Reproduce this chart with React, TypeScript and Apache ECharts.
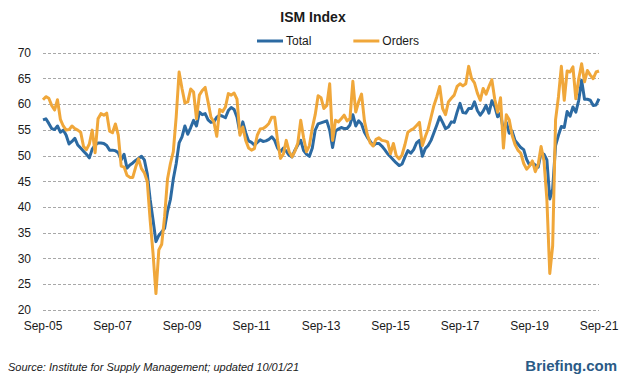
import React, { useEffect, useRef } from "react";
import * as echarts from "echarts";

const MONTHS = ["Jan", "Feb", "Mar", "Apr", "May", "Jun", "Jul", "Aug", "Sep", "Oct", "Nov", "Dec"];
const START_YEAR = 2005;
const START_MONTH = 8; // Sep
const COUNT = 193; // Sep-05 .. Sep-21

const total = [
  57.0, 57.2, 56.3, 55.3,
  55.1, 55.8, 54.6, 55.0, 54.0, 52.3, 52.8, 53.4, 52.1, 51.5, 50.9, 50.3,
  49.6, 51.3, 52.1, 52.5, 52.5, 52.4, 52.0, 51.1, 51.1, 51.0, 50.6, 49.2,
  50.3, 47.6, 48.2, 48.6, 49.1, 49.5, 49.9, 49.2, 46.5, 41.5, 37.5, 33.3,
  34.5, 35.2, 35.9, 39.2, 41.5, 45.5, 48.5, 52.5, 53.7, 55.8, 54.2, 55.5,
  56.9, 55.8, 58.5, 58.0, 58.2, 57.0, 56.5, 56.6, 57.5, 57.9, 57.7, 57.4,
  58.8, 59.4, 59.0, 57.5, 54.5, 56.6, 54.5, 52.9, 52.6, 52.1, 52.6, 53.1,
  52.8, 52.9, 53.2, 53.7, 53.0, 51.5, 50.8, 51.5, 50.9, 50.1, 49.8, 51.1,
  52.1, 53.0, 51.0, 50.3, 49.9, 51.5, 55.0, 56.2, 56.4, 56.6, 56.8, 55.0,
  51.6, 54.8, 55.2, 55.5, 55.3, 55.3, 56.0, 58.0, 55.8, 56.8, 56.2, 54.6,
  53.6, 52.8, 52.0, 52.4, 52.4, 51.9, 51.2, 50.4, 49.8, 49.2, 48.6, 48.1,
  48.4, 49.8, 51.0, 50.5, 51.2, 52.5, 53.0, 49.9, 51.4, 52.0, 53.0, 54.5,
  56.0, 57.6, 56.5, 55.3, 55.6, 56.6, 56.5, 58.5, 60.2, 58.4, 58.3, 59.2,
  59.2, 60.5, 58.8, 57.9, 58.7, 59.8, 58.3, 60.7, 59.6, 57.6, 58.3, 54.8,
  56.5, 54.4, 54.8, 53.0, 52.3, 51.6, 51.2, 49.3, 48.2, 48.6, 48.2, 47.8,
  50.6, 50.3, 49.2, 41.6, 43.5, 52.0, 54.0, 55.7, 55.5, 58.6, 57.7, 59.5,
  58.5, 60.8, 64.7, 61.0, 61.0, 60.8, 59.8, 59.9, 61.1,
];

const orders = [
  60.9, 61.5, 61.2, 59.8,
  58.9, 60.9, 57.1, 55.8, 55.0, 55.1, 55.8, 55.3, 55.0, 54.6, 51.8, 51.2,
  52.3, 55.0, 50.6, 57.2, 58.2, 57.9, 58.3, 54.8, 54.5, 56.2, 54.0, 48.0,
  47.8, 46.2, 45.8, 45.8, 47.8, 49.4, 47.5, 46.7, 45.0, 37.5, 31.0, 23.2,
  31.7, 32.8, 38.2, 45.5, 48.5, 50.8, 57.6, 66.3, 63.1, 60.3, 60.5, 63.0,
  62.4, 57.2, 61.8, 62.7, 63.3, 60.5, 57.5, 56.6, 53.8, 59.0, 58.6, 59.5,
  62.1, 61.8, 62.2, 61.0, 54.0, 55.6, 53.0, 51.5, 51.1, 51.4, 54.0, 55.2,
  55.3, 55.7, 56.3, 57.5, 57.5, 53.0, 49.5, 50.3, 53.0, 50.8, 49.8, 50.9,
  52.5, 56.9, 53.5, 50.8, 52.0, 55.4, 58.0, 61.7, 61.3, 59.2, 59.8, 64.0,
  53.0, 56.9, 56.6, 57.2, 57.9, 56.8, 57.2, 64.5, 58.5, 60.5, 62.0, 56.8,
  54.1, 52.5, 51.9, 53.2, 53.5, 53.0, 52.9, 52.7, 50.4, 52.4, 50.0, 49.4,
  50.2, 52.2, 54.6, 55.0, 55.3, 55.9, 56.5, 52.0, 53.7, 55.2, 57.5, 59.8,
  61.5, 63.5, 59.2, 58.0, 60.5, 61.2, 61.8, 63.5, 64.0, 63.6, 64.0, 67.4,
  65.0, 64.2, 62.2, 60.8, 63.1, 62.0, 63.5, 64.8, 61.0, 58.5, 61.3, 51.5,
  58.0, 57.0, 54.0, 52.2, 51.1, 50.5, 48.5, 47.4, 48.0, 49.0, 46.9, 48.3,
  51.8, 49.0, 41.5, 27.1, 32.5, 57.0, 61.5, 67.4, 60.8, 66.5, 66.3, 67.3,
  61.1, 65.0, 67.9, 64.4, 66.6, 65.7, 65.0, 66.3, 66.5,
];

const categories: string[] = [];
for (let i = 0; i < COUNT; i++) {
  const k = START_MONTH + i;
  const m = k % 12;
  const y = START_YEAR + Math.floor(k / 12);
  categories.push(`${MONTHS[m]}-${String(y % 100).padStart(2, "0")}`);
}

const FONT = "Liberation Sans";

export default function App() {
  const ref = useRef<HTMLDivElement>(null);
  useEffect(() => {
    if (!ref.current) return;
    const chart = echarts.init(ref.current, undefined, { renderer: "svg" });
    chart.setOption({
      animation: false,
      backgroundColor: "#ffffff",
      title: {
        text: "ISM Index",
        left: "center",
        top: 5,
        textStyle: { fontFamily: FONT, fontSize: 14, fontWeight: "bold", color: "#1a1a1a" },
      },
      legend: {
        left: 252,
        top: 30,
        itemWidth: 26,
        itemHeight: 3,
        itemGap: 42,
        icon: "rect",
        textStyle: { fontFamily: FONT, fontSize: 12, color: "#1a1a1a", padding: [0, 0, 0, -2] },
        data: ["Total", "Orders"],
      },
      grid: { left: 43, right: 27, top: 53, bottom: 78 },
      xAxis: {
        type: "category",
        data: categories,
        boundaryGap: false,
        axisLine: { show: false },
        axisTick: { show: false },
        splitLine: { show: false },
        axisLabel: {
          interval: (idx: number) => idx % 24 === 0,
          fontFamily: FONT,
          fontSize: 12,
          color: "#1a1a1a",
          margin: 10,
        },
      },
      yAxis: {
        type: "value",
        min: 20,
        max: 70,
        interval: 5,
        axisLine: { show: false },
        axisTick: { show: false },
        axisLabel: { fontFamily: FONT, fontSize: 12, color: "#1a1a1a", margin: 12 },
        splitLine: { show: true, lineStyle: { color: "#a8a8a8", width: 1, type: [3, 2] } },
      },
      series: [
        {
          name: "Total",
          type: "line",
          data: total,
          showSymbol: false,
          symbol: "none",
          color: "#2c6aa2",
          lineStyle: { width: 3, color: "#2c6aa2", join: "round" },
        },
        {
          name: "Orders",
          type: "line",
          data: orders,
          showSymbol: false,
          symbol: "none",
          color: "#f0a73a",
          lineStyle: { width: 3, color: "#f0a73a", join: "round" },
        },
      ],
      graphic: [
        {
          type: "text",
          left: 8,
          top: 361,
          style: {
            text: "Source: Institute for Supply Management; updated 10/01/21",
            fontFamily: FONT,
            fontSize: 11,
            fontStyle: "italic",
            fill: "#1a1a1a",
          },
        },
        {
          type: "text",
          right: 9,
          top: 358,
          style: {
            text: "Briefing.com",
            fontFamily: FONT,
            fontSize: 15,
            fontWeight: "bold",
            fill: "#2a5a86",
          },
        },
      ],
    });
    return () => chart.dispose();
  }, []);
  return (
    <div
      ref={ref}
      style={{ position: "fixed", left: 0, top: 0, width: 626, height: 388, background: "#fff" }}
    />
  );
}
